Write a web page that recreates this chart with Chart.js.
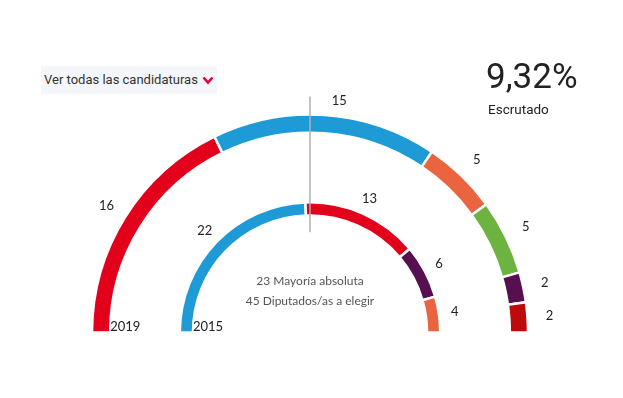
<!DOCTYPE html>
<html>
<head>
<script src="https://cdn.jsdelivr.net/npm/chart.js"></script>
<style>
  body { margin: 0; background: #fff; font-family: Roboto, "Open Sans", sans-serif; }
  #wrap { position: relative; width: 623px; height: 398px; }
  #chart { position: absolute; left: 0; top: 0; }
  #select { position: absolute; left: 41px; top: 66px; width: 176px; height: 28px; background: #f5f6fa;
            font-size: 13px; color: #333; line-height: 28px; padding-left: 3px; box-sizing: border-box; white-space: nowrap; }
  #select svg { position: absolute; left: 161px; top: 10px; }
  #pct { position: absolute; left: 486px; top: 56px; font-size: 35px; color: #222; }
  #escr { position: absolute; left: 488px; top: 101px; font-size: 13.5px; color: #222; }
</style>
<title>Resultados</title>
</head>
<body>
<div id="wrap">
  <canvas id="chart" width="623" height="398"></canvas>
  <div id="select">Ver todas las candidaturas<svg width="12" height="9" viewBox="0 0 12 9"><polyline points="1.5,1.5 6,6.5 10.5,1.5" fill="none" stroke="#e2003b" stroke-width="2.6"/></svg></div>
  <div id="pct">9,32%</div>
  <div id="escr">Escrutado</div>
</div>
<script>
// 2019 (anillo exterior) y 2015 (anillo interior), de izquierda a derecha
const seats2019 = [16, 15, 5, 5, 2, 2];
const colors2019 = ['#e2001a', '#1e9ad6', '#e9643f', '#6db33f', '#560f4f', '#be0a0a'];
const seats2015 = [22, 13, 6, 4];
const colors2015 = ['#1e9ad6', '#e2001a', '#560f4f', '#e9643f'];
const years = ['2019', '2015'];
const totalSeats = 45;
const majority = 23;

const labelFont = '13px Lato, "Open Sans", sans-serif';

const labelsPlugin = {
  id: 'parlLabels',
  afterDatasetsDraw(chart) {
    const ctx = chart.ctx;
    ctx.save();
    ctx.font = labelFont;
    ctx.fillStyle = '#222';
    ctx.textAlign = 'center';
    ctx.textBaseline = 'middle';
    [0, 2].forEach((di, k) => {
      const meta = chart.getDatasetMeta(di);
      const vals = chart.data.datasets[di].data;
      meta.data.forEach((arc, i) => {
        const p = arc.getProps(['x', 'y', 'startAngle', 'endAngle', 'outerRadius', 'innerRadius']);
        const a = (p.startAngle + p.endAngle) / 2;
        let r = p.outerRadius + (k === 0 ? 22 : 16);
        let x;
        if (Math.abs(Math.cos(a)) < 0.12) { r -= 8; x = p.x + Math.cos(a) * r + 13; }
        else x = p.x + Math.cos(a) * r;
        ctx.fillText(vals[i], x, p.y + Math.sin(a) * r);
      });
      // year label
      const first = meta.data[0].getProps(['x', 'y', 'outerRadius', 'innerRadius']);
      ctx.textAlign = 'left';
      ctx.textBaseline = 'alphabetic';
      ctx.fillText(years[k], first.x - first.innerRadius, first.y - 2);
      ctx.textAlign = 'center';
      ctx.textBaseline = 'middle';
    });
    // majority line + centre text
    const m = chart.getDatasetMeta(0).data[0].getProps(['x', 'y', 'outerRadius']);
    const inner = chart.getDatasetMeta(2).data[0].getProps(['outerRadius']);
    ctx.strokeStyle = '#b0b0b0';
    ctx.lineWidth = 1.5;
    ctx.beginPath();
    ctx.moveTo(m.x, m.y - m.outerRadius - 18);
    ctx.lineTo(m.x, m.y - inner.outerRadius + 30);
    ctx.stroke();
    ctx.fillStyle = '#555';
    ctx.font = '12px Lato, "Open Sans", sans-serif';
    ctx.fillText(majority + ' Mayoría absoluta', m.x, m.y - 51);
    ctx.fillText(totalSeats + ' Diputados/as a elegir', m.x, m.y - 31);
    ctx.restore();
  }
};

new Chart(document.getElementById('chart'), {
  type: 'doughnut',
  data: {
    datasets: [
      { data: seats2019, backgroundColor: colors2019, borderColor: '#fff', borderWidth: 2.5, weight: 18 },
      { data: [totalSeats], backgroundColor: 'rgba(0,0,0,0)', borderWidth: 0, weight: 69 },
      { data: seats2015, backgroundColor: colors2015, borderColor: '#fff', borderWidth: 2.5, weight: 13 }
    ]
  },
  options: {
    responsive: false,
    animation: false,
    rotation: -90,
    circumference: 180,
    radius: 218,
    cutout: '53.7%',
    layout: { padding: { left: 93, right: 96, top: 115, bottom: 66 } },
    plugins: { legend: { display: false }, tooltip: { enabled: false } }
  },
  plugins: [labelsPlugin]
});
</script>
</body>
</html>
